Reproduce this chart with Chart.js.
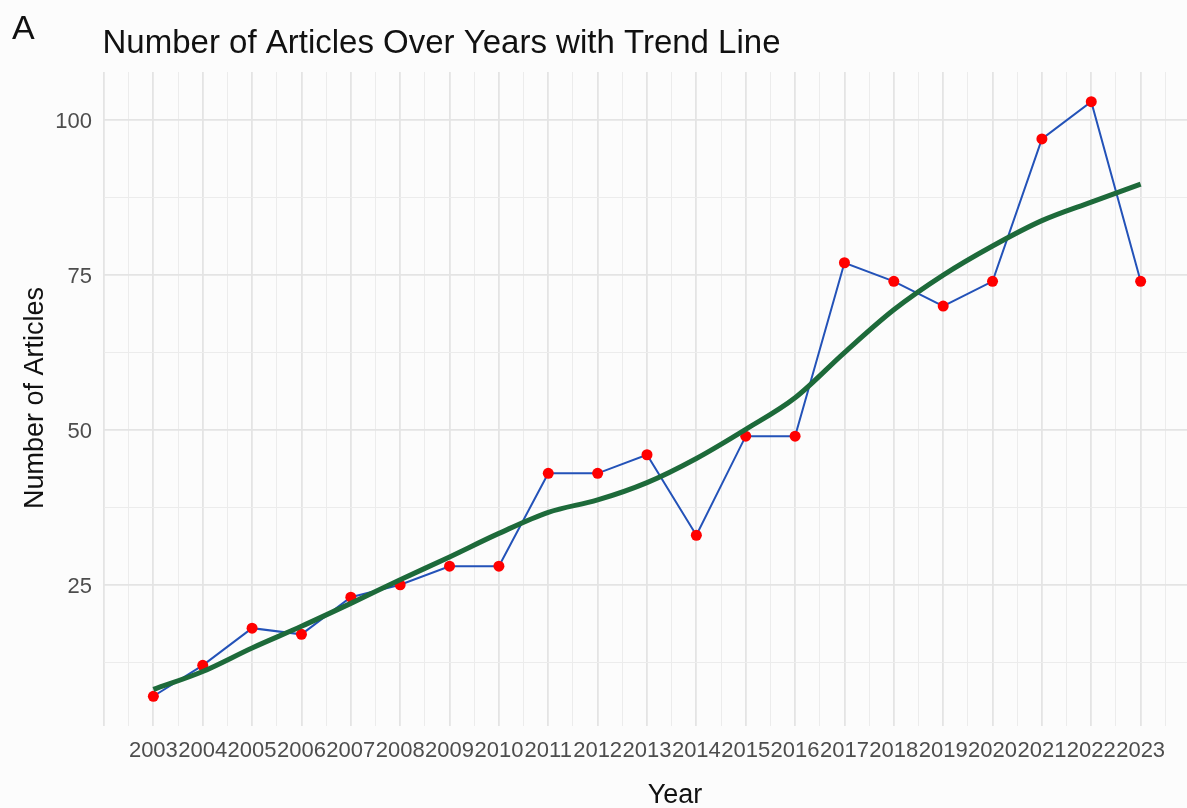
<!DOCTYPE html>
<html>
<head>
<meta charset="utf-8">
<script src="https://cdn.jsdelivr.net/npm/chart.js@4.4.1/dist/chart.umd.min.js"></script>
<style>
  html, body { margin: 0; padding: 0; background: #fcfcfc; overflow: hidden; }
  #wrap { width: 1187px; height: 808px; overflow: hidden; position: relative; }
  canvas { display: block; }
</style>
</head>
<body>
<div id="wrap"><canvas id="c" width="1190" height="808"></canvas></div>
<script>
// ---- data ----
const years = [2003, 2004, 2005, 2006, 2007, 2008, 2009, 2010, 2011, 2012, 2013,
               2014, 2015, 2016, 2017, 2018, 2019, 2020, 2021, 2022, 2023];
const articles = [7, 12, 18, 17, 23, 25, 28, 28, 43, 43, 46,
                  33, 49, 49, 77, 74, 70, 74, 97, 103, 74];
const trend = [8.1, 11.0, 14.8, 18.3, 22.0, 25.8, 29.5, 33.3, 36.7, 38.7, 41.5,
               45.4, 50.1, 55.2, 62.5, 69.4, 75.0, 79.7, 83.8, 86.8, 89.7];
const yMajorTicks = [25, 50, 75, 100];
const yMinorTicks = [12.5, 37.5, 62.5, 87.5];
const xTickLabels = years.map(String);

const titleText = 'Number of Articles Over Years with Trend Line';
const panelLabel = 'A';
const xTitle = 'Year';
const yTitle = 'Number of Articles';

const FONT = '"Liberation Sans", Arial, Helvetica, sans-serif';

const textPlugin = {
  id: 'texts',
  afterDraw(chart) {
    const ctx = chart.ctx;
    ctx.save();
    ctx.fillStyle = '#111111';
    ctx.textBaseline = 'alphabetic';
    ctx.textAlign = 'left';
    ctx.font = '34px ' + FONT;
    ctx.fillText(panelLabel, 12, 39);
    ctx.font = '33px ' + FONT;
    ctx.fillText(titleText, 102.5, 53);
    ctx.font = '27px ' + FONT;
    ctx.textAlign = 'center';
    ctx.fillText(xTitle, 675, 803);
    ctx.translate(43, 398);
    ctx.rotate(-Math.PI / 2);
    ctx.fillText(yTitle, 0, 0);
    ctx.restore();
  }
};

const xMin = years[0] - 1;
const xMax = years[years.length - 1] + 1;

new Chart(document.getElementById('c'), {
  type: 'line',
  data: {
    datasets: [
      {
        label: 'Trend',
        data: years.map((y, i) => ({ x: y, y: trend[i] })),
        borderColor: '#1d6a3a',
        borderWidth: 5,
        pointRadius: 0,
        cubicInterpolationMode: 'monotone',
        order: 0
      },
      {
        label: 'Articles',
        data: years.map((y, i) => ({ x: y, y: articles[i] })),
        borderColor: '#2352b8',
        borderWidth: 2,
        pointRadius: 5.5,
        pointBackgroundColor: '#ff0000',
        pointBorderWidth: 0,
        tension: 0,
        order: 1
      }
    ]
  },
  options: {
    responsive: false,
    animation: false,
    devicePixelRatio: 1,
    layout: { autoPadding: false, padding: { top: 72, left: 0, right: 0, bottom: 0 } },
    plugins: { legend: { display: false }, tooltip: { enabled: false }, title: { display: false } },
    scales: {
      x: {
        type: 'linear',
        min: xMin,
        max: xMax,
        afterBuildTicks(scale) {
          const t = [];
          for (let v = xMin; v <= xMax + 1e-9; v += 0.5) t.push({ value: v });
          scale.ticks = t;
        },
        afterFit(scale) { scale.height = 82; scale.paddingLeft = 0; scale.paddingRight = 0; },
        border: { display: false },
        grid: {
          drawTicks: false,
          color: (c) => Number.isInteger(c.tick.value) ? '#e4e4e4' : '#ececec',
          lineWidth: (c) => Number.isInteger(c.tick.value) ? 1.8 : 1
        },
        ticks: {
          autoSkip: false,
          maxRotation: 0,
          minRotation: 0,
          padding: 12,
          color: '#4d4d4d',
          font: { family: FONT, size: 22 },
          callback: (v) => {
            const i = years.indexOf(v);
            return i >= 0 ? xTickLabels[i] : '';
          }
        }
      },
      y: {
        type: 'linear',
        min: 2.2,
        max: 107.8,
        afterBuildTicks(scale) {
          scale.ticks = yMinorTicks.concat(yMajorTicks).sort((a, b) => a - b).map(v => ({ value: v }));
        },
        afterFit(scale) { scale.width = 104; scale.paddingTop = 0; scale.paddingBottom = 0; },
        border: { display: false },
        grid: {
          drawTicks: false,
          color: (c) => yMajorTicks.includes(c.tick.value) ? '#e4e4e4' : '#ececec',
          lineWidth: (c) => yMajorTicks.includes(c.tick.value) ? 1.8 : 1
        },
        ticks: {
          padding: 12,
          labelOffset: 2,
          color: '#4d4d4d',
          font: { family: FONT, size: 22 },
          callback: (v) => yMajorTicks.includes(v) ? String(v) : ''
        }
      }
    }
  },
  plugins: [textPlugin]
});
</script>
</body>
</html>
